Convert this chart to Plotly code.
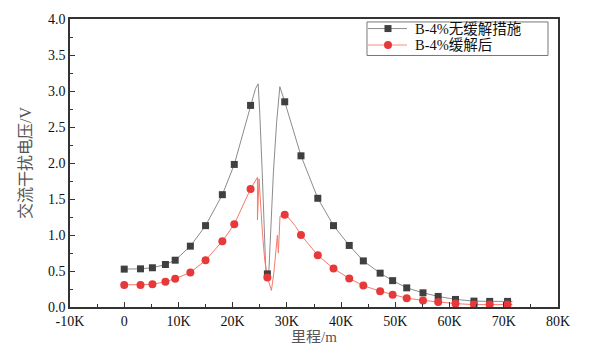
import plotly.graph_objects as go

# ---- data (mileage in m, voltage in V) ----
marker_km = [0, 3.0, 5.2, 7.6, 9.4, 12.2, 15.0, 18.1, 20.3, 23.3, 26.4, 29.6, 32.6,
             35.7, 38.6, 41.5, 44.1, 47.2, 49.5, 52.1, 55.1, 57.9, 61.1, 64.5, 67.4, 70.7]
no_mitigation = [0.526, 0.53, 0.545, 0.59, 0.65, 0.845, 1.13, 1.56, 1.98, 2.80, 0.46, 2.85, 2.10,
                 1.51, 1.13, 0.855, 0.64, 0.47, 0.366, 0.266, 0.197, 0.147, 0.105, 0.082, 0.078, 0.078]
mitigated = [0.307, 0.307, 0.315, 0.352, 0.393, 0.479, 0.649, 0.914, 1.15, 1.64, 0.41, 1.28, 1.00,
             0.718, 0.534, 0.397, 0.297, 0.219, 0.170, 0.123, 0.092, 0.068, 0.047, 0.033, 0.033, 0.033]

# dense curve vertices (km, V)
no_mit_line_km = [0, 3.0, 5.2, 7.6, 9.4, 12.2, 15.0, 18.1, 20.3, 23.3, 24.2, 24.7, 25.0, 25.45,
                  26.1, 26.45, 26.7, 27.5, 28.1, 28.7, 29.2, 29.6, 32.6, 35.7, 38.6, 41.5, 44.1,
                  47.2, 49.5, 52.1, 55.1, 57.9, 61.1, 64.5, 67.4, 70.7, 71.6]
no_mit_line_v = [0.526, 0.53, 0.545, 0.59, 0.65, 0.845, 1.13, 1.56, 1.98, 2.80, 3.03, 3.10, 2.69, 1.87,
                 0.53, 0.40, 0.53, 1.85, 2.56, 3.06, 2.93, 2.85, 2.10, 1.51, 1.13, 0.855, 0.64,
                 0.47, 0.366, 0.266, 0.197, 0.147, 0.105, 0.082, 0.078, 0.078, 0.078]
mit_line_km = [0, 3.0, 5.2, 7.6, 9.4, 12.2, 15.0, 18.1, 20.3, 23.3, 24.25, 24.57, 24.57, 24.86,
               25.49, 25.9, 26.4, 27.15, 27.6, 27.94, 28.25, 28.43, 28.73, 29.6, 30.1, 31.6, 32.6,
               35.7, 38.6, 41.5, 44.1, 47.2, 49.5, 52.1, 55.1, 57.9, 61.1, 64.5, 67.4, 70.7, 71.6]
mit_line_v = [0.307, 0.307, 0.315, 0.352, 0.393, 0.479, 0.649, 0.914, 1.15, 1.64, 1.75, 1.80, 1.21, 1.78,
              1.03, 0.66, 0.41, 0.23, 0.48, 0.71, 1.00, 0.75, 1.26, 1.28, 1.26, 1.12, 1.00,
              0.718, 0.534, 0.397, 0.297, 0.219, 0.170, 0.123, 0.092, 0.068, 0.047, 0.033, 0.033, 0.033, 0.033]

x_tick_vals = [-10000, 0, 10000, 20000, 30000, 40000, 50000, 60000, 70000, 80000]
x_tick_labels = ["-10K", "0", "10K", "20K", "30K", "40K", "50K", "60K", "70K", "80K"]

names = ["B-4%无缓解措施", "B-4%缓解后"]

BLACK_LINE = "#8c8c8c"
BLACK_MK = "#404040"
RED_LINE = "#f47a6c"
RED_MK = "#e8393a"
FONT = "'Times New Roman', 'Liberation Serif', 'DejaVu Serif', 'Noto Sans CJK SC', serif"

km = lambda arr: [v * 1000 for v in arr]

fig = go.Figure()
fig.add_trace(go.Scatter(x=km(no_mit_line_km), y=no_mit_line_v, mode="lines",
                         line=dict(color=BLACK_LINE, width=1), showlegend=False, hoverinfo="skip"))
fig.add_trace(go.Scatter(x=km(mit_line_km), y=mit_line_v, mode="lines",
                         line=dict(color=RED_LINE, width=1), showlegend=False, hoverinfo="skip"))
fig.add_trace(go.Scatter(x=km(marker_km), y=no_mitigation, mode="markers", name=names[0],
                         marker=dict(symbol="square", size=7, color=BLACK_MK), showlegend=False))
fig.add_trace(go.Scatter(x=km(marker_km), y=mitigated, mode="markers", name=names[1],
                         marker=dict(symbol="circle", size=8, color=RED_MK), showlegend=False))

# ---- manual legend (paper coordinates) ----
shapes = [dict(type="rect", xref="paper", yref="paper", x0=0.6086, x1=0.9795, y0=0.8733, y1=0.9897,
               line=dict(color="#777777", width=1), fillcolor="white", layer="above")]
annotations = []
rows = [(0.9668, BLACK_LINE, 1, BLACK_MK, "rect", 7), (0.9099, "#f7b4ab", 1.5, RED_MK, "circle", 8)]
for (yy, lc, lw, mc, mshape, ms), name in zip(rows, names):
    shapes.append(dict(type="line", xref="paper", yref="paper", x0=0.6107, x1=0.6906, y0=yy, y1=yy,
                       line=dict(color=lc, width=lw), layer="above"))
    shapes.append(dict(type=mshape, xref="paper", yref="paper", xsizemode="pixel", ysizemode="pixel",
                       xanchor=0.6516, yanchor=yy, x0=-ms / 2, x1=ms / 2, y0=-ms / 2, y1=ms / 2,
                       fillcolor=mc, line=dict(width=0), layer="above"))
    annotations.append(dict(xref="paper", yref="paper", x=0.7029, y=yy, xanchor="left", yanchor="middle",
                            text=name, showarrow=False, font=dict(family=FONT, size=14.5, color="#111111")))

axis_common = dict(showline=True, linecolor="#333333", linewidth=1.5, mirror=True,
                   ticks="inside", ticklen=5, tickwidth=1, tickcolor="#333333",
                   showgrid=False, zeroline=False,
                   tickfont=dict(family=FONT, size=14, color="#111111"))

fig.update_layout(
    width=596, height=353,
    margin=dict(l=70, r=38, t=15, b=46),
    paper_bgcolor="white", plot_bgcolor="white",
    font=dict(family=FONT, color="#111111"),
    showlegend=False,
    shapes=shapes, annotations=annotations,
    xaxis=dict(range=[-10000, 80000], tickvals=x_tick_vals, ticktext=x_tick_labels,
               minor=dict(ticks="inside", ticklen=3, tickcolor="#333333", dtick=5000, tick0=0),
               title=dict(text="里程/m", font=dict(family=FONT, size=15, color="#555555"), standoff=2),
               **axis_common),
    yaxis=dict(range=[0, 4.0], dtick=0.5, tick0=0, tickformat=".1f",
               minor=dict(ticks="inside", ticklen=3, tickcolor="#333333", dtick=0.25),
               title=dict(text="交流干扰电压/V", font=dict(family=FONT, size=16, color="#555555"), standoff=12),
               **axis_common),
)

fig.write_html("out.html")
